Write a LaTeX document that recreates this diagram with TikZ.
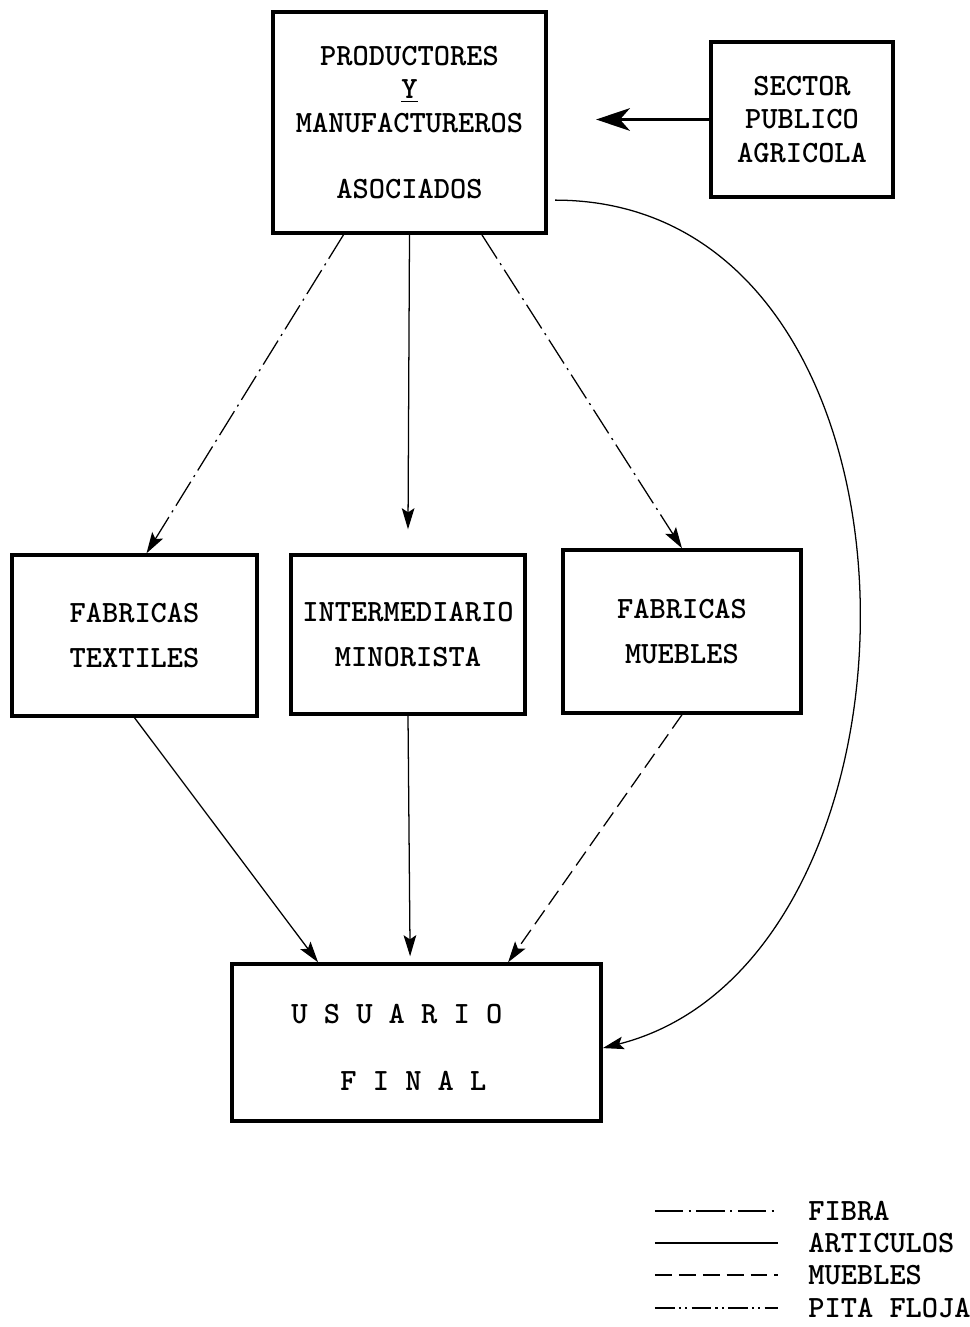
\documentclass[tikz,border=0pt]{standalone}
\usetikzlibrary{arrows.meta}

\begin{document}
\begin{tikzpicture}[x=0.025cm,y=-0.025cm,
        caja/.style={draw,line width=2.4pt,align=center,inner sep=0pt,font=\ttfamily\bfseries\fontsize{22}{24}\selectfont},
        texto/.style={inner sep=0pt,font=\ttfamily\bfseries\fontsize{22}{24}\selectfont},
        flecha/.style={line width=0.9pt,-{Stealth[length=15pt,width=9pt,inset=3pt]}},
        fibra/.style={dash pattern=on 20pt off 4pt on 1.5pt off 4pt},
        muebles/.style={dash pattern=on 12pt off 5pt},
        pita/.style={dash pattern=on 14pt off 3pt on 1.5pt off 3pt on 1.5pt off 3pt}]
        \useasboundingbox (0,0) rectangle (969,1327);

        % cajas
        \node[caja,minimum width=6.83cm,minimum height=5.53cm] (prod) at (409.5,122.5)
            {PRODUCTORES\\\underline{Y}\\MANUFACTUREROS\\[23pt]ASOCIADOS};
        \node[caja,minimum width=4.55cm,minimum height=3.875cm] (sector) at (802,119.5)
            {SECTOR\\PUBLICO\\AGRICOLA};
        \node[caja,minimum width=6.125cm,minimum height=4.025cm] (textil) at (134.5,635.5)
            {FABRICAS\\[8pt]TEXTILES};
        \node[caja,minimum width=5.85cm,minimum height=3.975cm] (interm) at (408,634.5)
            {INTERMEDIARIO\\[8pt]MINORISTA};
        \node[caja,minimum width=5.95cm,minimum height=4.075cm] (mueb) at (682,631.5)
            {FABRICAS\\[8pt]MUEBLES};
        \node[caja,minimum width=9.225cm,minimum height=3.925cm] (usuario) at (416.5,1042.5) {};
        \node[texto,anchor=base west] (usu1) at (291,1023) {U S U A R I O};
        \node[texto,anchor=base west] (usu2) at (340,1090) {F I N A L};

        % flechas
        \coordinate (sectip) at ([xshift=-2.83cm]sector.west);
        \draw[line width=2.8pt,-{Stealth[length=24pt,width=16pt,inset=7pt]}] (sector.west) -- (sectip);

        \draw[flecha,fibra] ([xshift=-1.65cm]prod.south) -- ([xshift=0.3cm]textil.north);
        \draw[flecha] (prod.south) -- ([yshift=0.6cm]interm.north);
        \draw[flecha,fibra] ([xshift=1.81cm]prod.south) -- (mueb.north);

        \draw[flecha] (textil.south) -- ([xshift=-2.46cm]usuario.north);
        \draw[flecha] (interm.south) -- ([xshift=-0.16cm,yshift=0.15cm]usuario.north);
        \draw[flecha,muebles] (mueb.south) -- ([xshift=2.29cm]usuario.north);

        \draw[flecha] ([xshift=0.18cm,yshift=-1.94cm]prod.east) .. controls +(397,0) and +(347,-88) .. ([yshift=-0.14cm]usuario.east);

        % leyenda
        \node[texto,anchor=west] (lfibra) at (808,1211) {FIBRA};
        \node[texto,anchor=west] (lart) at (808,1243) {ARTICULOS};
        \node[texto,anchor=west] (lmueb) at (808,1275) {MUEBLES};
        \node[texto,anchor=west] (lpita) at (808,1308) {PITA FLOJA};
        \draw[line width=0.9pt,fibra] ([xshift=-3.825cm]lfibra.west) -- ++(123,0);
        \draw[line width=0.9pt] ([xshift=-3.825cm]lart.west) -- ++(123,0);
        \draw[line width=0.9pt,muebles] ([xshift=-3.825cm]lmueb.west) -- ++(123,0);
        \draw[line width=0.9pt,pita] ([xshift=-3.825cm]lpita.west) -- ++(123,0);
\end{tikzpicture}
\end{document}
